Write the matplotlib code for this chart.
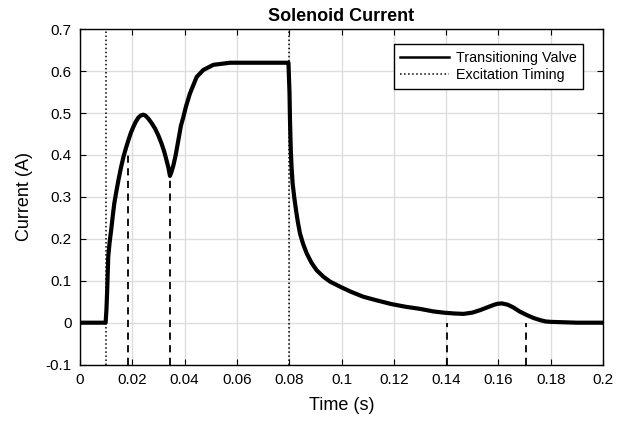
import numpy as np
import matplotlib
matplotlib.use('Agg')
import matplotlib.pyplot as plt

plt.rcParams['font.family'] = ['Liberation Sans', 'DejaVu Sans']

# current trace (s, A)
t = [0.0, 0.005, 0.0098, 0.0101, 0.0104, 0.0108, 0.0113, 0.0119, 0.0125, 0.0131,
     0.0139, 0.0147, 0.0156, 0.0166, 0.0175, 0.0185, 0.0194, 0.0204, 0.0213,
     0.0223, 0.0232, 0.0242, 0.025, 0.0261, 0.0274, 0.0287, 0.03, 0.0312,
     0.0322, 0.0331, 0.0338, 0.0344, 0.035, 0.0357, 0.0366, 0.0376, 0.0386,
     0.0395, 0.0405, 0.042, 0.0446, 0.0472, 0.051, 0.0574, 0.065, 0.072,
     0.0797, 0.0801, 0.0803, 0.0806, 0.0809, 0.0813, 0.0819, 0.0826, 0.0833,
     0.0841, 0.0853, 0.0867, 0.0885, 0.0905, 0.093, 0.0956, 0.0994, 0.1035,
     0.1083, 0.113, 0.119, 0.1245, 0.13, 0.135, 0.139, 0.143, 0.1466, 0.150,
     0.153, 0.1555, 0.158, 0.1595, 0.1613, 0.1635, 0.1658, 0.168, 0.1709,
     0.1735, 0.176, 0.178, 0.18, 0.19, 0.2]
current = [0.0, 0.0, 0.0, 0.03, 0.078, 0.157, 0.19, 0.22, 0.253, 0.284,
           0.313, 0.34, 0.368, 0.395, 0.415, 0.435, 0.452, 0.467, 0.479,
           0.489, 0.494, 0.496, 0.494, 0.487, 0.476, 0.463, 0.446, 0.427,
           0.408, 0.387, 0.37, 0.35, 0.36, 0.375, 0.40, 0.435, 0.47,
           0.49, 0.515, 0.546, 0.586, 0.603, 0.615, 0.62, 0.62, 0.62,
           0.62, 0.55, 0.48, 0.411, 0.37, 0.332, 0.30, 0.268, 0.24,
           0.213, 0.188, 0.165, 0.143, 0.125, 0.11, 0.098, 0.086, 0.074,
           0.062, 0.054, 0.0445, 0.038, 0.033, 0.027, 0.024, 0.022, 0.021, 0.024,
           0.030, 0.036, 0.042, 0.045, 0.046, 0.043, 0.036, 0.027, 0.018,
           0.011, 0.006, 0.003, 0.002, 0.0, 0.0]

excitation = [0.01, 0.08]
# dashed markers: x position and top of the dash
marks_x = [0.0185, 0.0343, 0.1405, 0.1705]
marks_top = [0.41, 0.345, 0.0, 0.0]

fig = plt.figure(figsize=(6.22, 4.23), dpi=100)
ax = fig.add_axes([0.1286, 0.138, 0.841, 0.793])

ax.plot(t, current, color='black', linewidth=3.0, label='Transitioning Valve',
        zorder=3, solid_joinstyle='round')
for i, xe in enumerate(excitation):
    ax.axvline(xe, color='black', linestyle=':', linewidth=1.1,
               label='Excitation Timing' if i == 0 else None, zorder=2)
for xm, ym in zip(marks_x, marks_top):
    ax.plot([xm, xm], [-0.1, ym], color='black', linestyle='--', linewidth=1.3,
            dashes=(4, 3), zorder=2)

ax.set_xlim(0, 0.2)
ax.set_ylim(-0.1, 0.7)
ax.set_xticks(np.arange(0, 0.201, 0.02))
ax.set_xticklabels(['0', '0.02', '0.04', '0.06', '0.08', '0.1', '0.12', '0.14', '0.16', '0.18', '0.2'])
ax.set_yticks(np.arange(-0.1, 0.701, 0.1))
ax.set_yticklabels(['-0.1', '0', '0.1', '0.2', '0.3', '0.4', '0.5', '0.6', '0.7'])
ax.grid(True, color='#dddddd', linewidth=1.0)
ax.set_axisbelow(True)
ax.tick_params(direction='in', top=True, right=True, labelsize=11, length=4, pad=6)
for s in ax.spines.values():
    s.set_linewidth(1.0)

ax.set_title('Solenoid Current', fontsize=13, fontweight='bold', pad=6)
ax.set_xlabel('Time (s)', fontsize=13, labelpad=7)
ax.set_ylabel('Current (A)', fontsize=13, labelpad=9)

leg = ax.legend(loc='upper right', bbox_to_anchor=(0.962, 0.955), fontsize=10.3,
                fancybox=False, edgecolor='black', framealpha=1, borderaxespad=0,
                handlelength=3.4, borderpad=0.45, labelspacing=0.25,
                handletextpad=0.5)
leg.get_frame().set_linewidth(1.0)
leg.get_lines()[0].set_linewidth(1.8)

fig.savefig('out.png', dpi=100)
